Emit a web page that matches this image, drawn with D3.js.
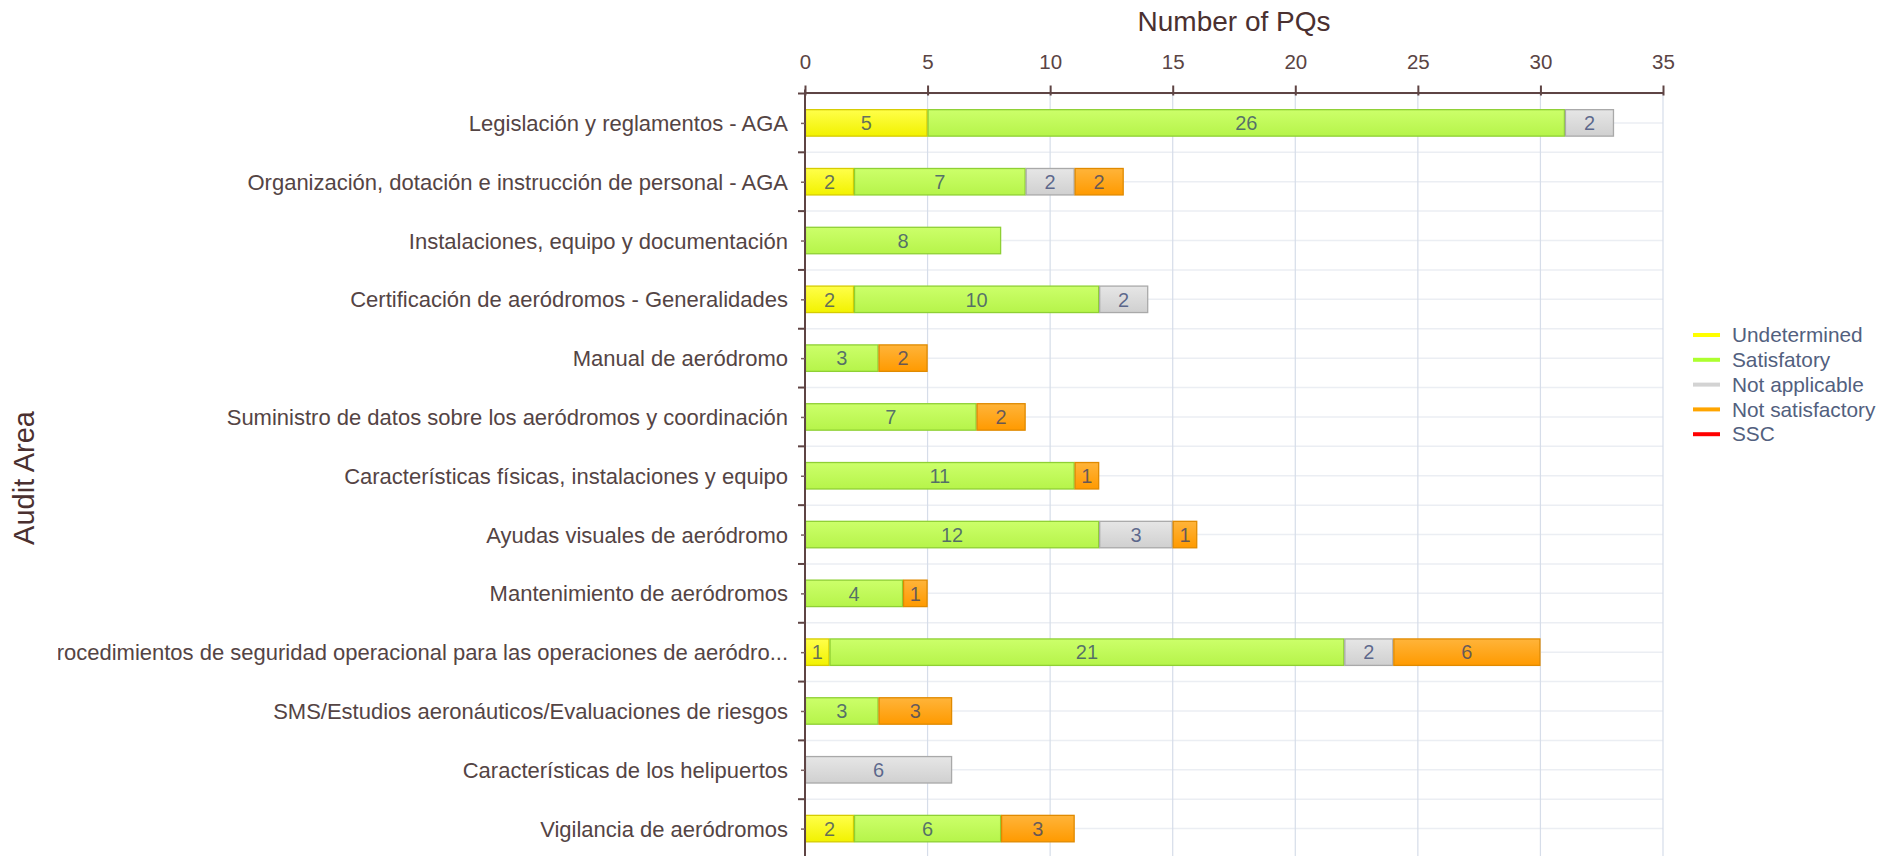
<!DOCTYPE html>
<html>
<head>
<meta charset="utf-8">
<script src="https://cdn.jsdelivr.net/npm/d3@7"></script>
<style>
  html, body { margin: 0; padding: 0; background: #ffffff; }
  svg { display: block; font-family: "Liberation Sans", Arial, sans-serif; }
</style>
</head>
<body>
<svg id="chart" width="1902" height="856"></svg>
<script>
// ---- data ----
const categories = [
  "Legislación y reglamentos - AGA",
  "Organización, dotación e instrucción de personal - AGA",
  "Instalaciones, equipo y documentación",
  "Certificación de aeródromos - Generalidades",
  "Manual de aeródromo",
  "Suministro de datos sobre los aeródromos y coordinación",
  "Características físicas, instalaciones y equipo",
  "Ayudas visuales de aeródromo",
  "Mantenimiento de aeródromos",
  "Procedimientos de seguridad operacional para las operaciones de aeródro...",
  "SMS/Estudios aeronáuticos/Evaluaciones de riesgos",
  "Características de los helipuertos",
  "Vigilancia de aeródromos"
];
const undetermined    = [5, 2, 0, 2, 0, 0, 0, 0, 0, 1, 0, 0, 2];
const satisfactory    = [26, 7, 8, 10, 3, 7, 11, 12, 4, 21, 3, 0, 6];
const notApplicable   = [2, 2, 0, 2, 0, 0, 0, 3, 0, 2, 0, 6, 0];
const notSatisfactory = [0, 2, 0, 0, 2, 2, 1, 1, 1, 6, 3, 0, 3];
const ssc             = [0, 0, 0, 0, 0, 0, 0, 0, 0, 0, 0, 0, 0];
const seriesNames = ["Undetermined", "Satisfatory", "Not applicable", "Not satisfactory", "SSC"];
const xTicks = [0, 5, 10, 15, 20, 25, 30, 35];
const xTitle = "Number of PQs";
const yTitle = "Audit Area";

(function () {
// ---- styles ----
const seriesStyle = [
  { top: "#ffff4a", bot: "#f2f200", stroke: "#d6cc00", legend: "#ffff00" },
  { top: "#ccff6a", bot: "#b6f44a", stroke: "#8fd034", legend: "#adff2f" },
  { top: "#e6e6e6", bot: "#d0d0d0", stroke: "#a9a9a9", legend: "#d3d3d3" },
  { top: "#ffb43a", bot: "#ff9a00", stroke: "#e08a00", legend: "#ffa500" },
  { top: "#ff3030", bot: "#ee0000", stroke: "#c00000", legend: "#ff0000" }
];
const seriesValues = [undetermined, satisfactory, notApplicable, notSatisfactory, ssc];

const svg = d3.select("#chart");
const axisColor = "#5e4444";
const pLeft = 805, pRight = 1663, pTop = 92.5, pBottom = 858;

const x = d3.scaleLinear().domain([0, 35]).range([pLeft, pRight]);
const yBand = d3.scaleBand().domain(categories).range([pTop + 1, pBottom]).paddingInner(0).paddingOuter(0);
const bw = yBand.bandwidth();
const barH = bw * 0.45;

// defs: gradients
const defs = svg.append("defs");
seriesStyle.forEach((s, i) => {
  const g = defs.append("linearGradient").attr("id", "grad" + i)
    .attr("x1", 0).attr("y1", 0).attr("x2", 0).attr("y2", 1);
  g.append("stop").attr("offset", "0%").attr("stop-color", s.top);
  g.append("stop").attr("offset", "100%").attr("stop-color", s.bot);
});
defs.append("clipPath").attr("id", "labelClipLocal")
  .append("rect").attr("x", 58 - pLeft).attr("y", 0).attr("width", 2000).attr("height", 856);

// grid: horizontal lines at row boundaries and centers
const hLines = [];
categories.forEach(c => { hLines.push(yBand(c)); hLines.push(yBand(c) + bw / 2); });
svg.append("g").selectAll("line").data(hLines).join("line")
  .attr("x1", pLeft).attr("x2", pRight)
  .attr("y1", d => d).attr("y2", d => d)
  .attr("stroke", "#ebeef3").attr("stroke-width", 1.5);

// grid: vertical lines
svg.append("g").selectAll("line").data(xTicks.slice(1)).join("line")
  .attr("x1", d => x(d)).attr("x2", d => x(d))
  .attr("y1", pTop).attr("y2", 856)
  .attr("stroke", "#d6dde9").attr("stroke-width", 1.2);

// stacked bars
const stackData = categories.map((c, i) => {
  const o = { cat: c };
  seriesNames.forEach((n, k) => { o[n] = seriesValues[k][i]; });
  return o;
});
const stack = d3.stack().keys(seriesNames)(stackData);
const barsG = svg.append("g");
stack.forEach((layer, k) => {
  const g = barsG.append("g");
  const segs = layer.filter(d => d[1] - d[0] > 0);
  g.selectAll("rect").data(segs).join("rect")
    .attr("x", d => x(d[0]) + 0.5)
    .attr("y", d => yBand(d.data.cat) + bw / 2 - barH / 2)
    .attr("width", d => x(d[1]) - x(d[0]) - 1)
    .attr("height", barH)
    .attr("fill", "url(#grad" + k + ")")
    .attr("stroke", seriesStyle[k].stroke)
    .attr("stroke-width", 1.3);
  g.selectAll("text").data(segs).join("text")
    .attr("x", d => (x(d[0]) + x(d[1])) / 2)
    .attr("y", d => yBand(d.data.cat) + bw / 2)
    .attr("dy", "0.36em")
    .attr("text-anchor", "middle")
    .attr("font-size", 20)
    .attr("fill", "#2c3b6e")
    .attr("fill-opacity", 0.72)
    .text(d => d[1] - d[0]);
});

// top axis
const xAxis = d3.axisTop(x).tickValues(xTicks).tickSizeInner(7).tickSizeOuter(0).tickPadding(17);
const xg = svg.append("g").attr("transform", `translate(0,${pTop})`).call(xAxis);
xg.select(".domain").attr("stroke", axisColor).attr("stroke-width", 2);
xg.selectAll(".tick line").attr("stroke", axisColor).attr("stroke-width", 2).attr("y2", -7).attr("y1", 3);
xg.selectAll(".tick text").attr("font-size", 20.5).attr("fill", "#5a4444")
  .attr("font-family", "\"Liberation Sans\", Arial, sans-serif");

// left axis line
svg.append("line").attr("x1", pLeft).attr("x2", pLeft).attr("y1", pTop - 3).attr("y2", 856)
  .attr("stroke", axisColor).attr("stroke-width", 2);
// boundary ticks
const bounds = categories.map(c => yBand(c));
svg.append("g").selectAll("line").data(bounds).join("line")
  .attr("x1", pLeft - 7).attr("x2", pLeft + 1)
  .attr("y1", d => d).attr("y2", d => d)
  .attr("stroke", axisColor).attr("stroke-width", 2);
// center ticks + labels
const yCenter = d3.scalePoint().domain(categories)
  .range([yBand(categories[0]) + bw / 2, yBand(categories[categories.length - 1]) + bw / 2]);
const yAxis = d3.axisLeft(yCenter).tickSizeInner(4).tickSizeOuter(0).tickPadding(13);
const yg = svg.append("g").attr("transform", `translate(${pLeft},0)`)
  .attr("clip-path", "url(#labelClipLocal)").call(yAxis);
yg.select(".domain").remove();
yg.selectAll(".tick line").attr("stroke", "#7a6262").attr("stroke-width", 1.5);
yg.selectAll(".tick text").attr("font-size", 22).attr("fill", "#544444")
  .attr("font-family", "\"Liberation Sans\", Arial, sans-serif")
  .attr("dy", "0.34em");

// axis titles
svg.append("text").attr("x", (pLeft + pRight) / 2).attr("y", 31)
  .attr("text-anchor", "middle").attr("font-size", 28).attr("fill", "#4a3030")
  .text(xTitle);
svg.append("text").attr("transform", "translate(34,478) rotate(-90)")
  .attr("text-anchor", "middle").attr("font-size", 29).attr("fill", "#4a3030")
  .text(yTitle);

// legend
const lg = svg.append("g").attr("transform", "translate(1693,335)");
const items = lg.selectAll("g").data(seriesNames).join("g")
  .attr("transform", (d, i) => `translate(0,${i * 24.8})`);
items.append("line").attr("x1", 0).attr("x2", 27).attr("y1", 0).attr("y2", 0)
  .attr("stroke", (d, i) => seriesStyle[i].legend).attr("stroke-width", 4);
items.append("text").attr("x", 39).attr("y", 0).attr("dy", "0.35em")
  .attr("font-size", 20.8).attr("fill", "#52607e").text(d => d);
})();
</script>
</body>
</html>
